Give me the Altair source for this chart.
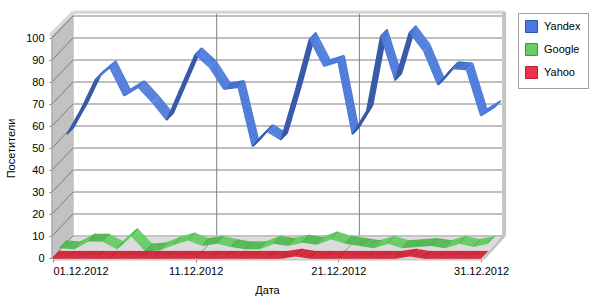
import json
import altair as alt
import pandas as pd

# ---------------- data ----------------
dates = ["01.12.2012", "02.12.2012", "03.12.2012", "04.12.2012", "05.12.2012",
         "06.12.2012", "07.12.2012", "08.12.2012", "09.12.2012", "10.12.2012",
         "11.12.2012", "12.12.2012", "13.12.2012", "14.12.2012", "15.12.2012",
         "16.12.2012", "17.12.2012", "18.12.2012", "19.12.2012", "20.12.2012",
         "21.12.2012", "22.12.2012", "23.12.2012", "24.12.2012", "25.12.2012",
         "26.12.2012", "27.12.2012", "28.12.2012", "29.12.2012", "30.12.2012",
         "31.12.2012"]
yandex = [49.5, 61, 74.5, 80, 67, 71, 64, 56, 71, 86, 80, 70, 71, 44, 51, 47,
          69, 93, 80.5, 82.5, 49.5, 60, 94.5, 74, 96, 87.5, 72, 79.5, 79, 58, 62]
google = [1.5, 1, 4.5, 4.5, 1, 7, 0, 0.5, 3, 5, 2.5, 3.5, 2, 1, 1, 3.5,
          2.5, 4, 3, 5.5, 3.5, 2.5, 1.5, 3.5, 1.5, 2, 2.5, 1.5, 3.5, 2, 3.5]
yahoo = [0, 0, 0, 0, 0, 0, 0, 0, 0, 0, 0, 0, 0, 0, 0, 0,
         0, 1, 0, 0, 0, 0, 0, 0, 0, 1, 0, 0, 0, 0, 0]
series_names = ["Yandex", "Google", "Yahoo"]
x_tick_labels = ["01.12.2012", "11.12.2012", "21.12.2012", "31.12.2012"]
y_ticks = [0, 10, 20, 30, 40, 50, 60, 70, 80, 90, 100]

# ---------------- layout / style ----------------
FONT = "Liberation Sans"
PX_DAY = 14.27
PX_UNIT = 2.2
W, H = 460, 246
LEFT, TOP = 52, 12
DX, DY = 21, 22
R = DY / DX
X_LEFT = 1 - 1 / PX_DAY
WALL_TOP = 101.3

days = [int(s[:2]) for s in dates]
tick_days = [int(s[:2]) for s in x_tick_labels]
last_day = days[-1]

palette = {
    "Yandex": {"flat": "#4672cf", "tilt": "#4d7bda", "under": "#3a5ba9", "edge": "#2f4f96"},
    "Google": {"flat": "#55ba55", "tilt": "#66cc66", "under": "#47a047", "edge": "#3c8f3c"},
    "Yahoo": {"flat": "#d42a3c", "tilt": "#f0384e", "under": "#a82030", "edge": "#9a1c2a"},
}
depth = {"Yandex": (14, 20), "Google": (7, 13), "Yahoo": (0, 6)}
leg_fill = ["#4a78dc", "#66cc66", "#f0304a"]
leg_stroke = ["#2f55a8", "#3b9b3b", "#b52035"]

values_by = dict(zip(series_names, [yandex, google, yahoo]))

seg_rows = []
pt_rows = []
for name in series_names:
    vals = values_by[name]
    for i in range(len(vals) - 1):
        rise_px = (vals[i + 1] - vals[i]) * PX_UNIT
        if rise_px > PX_DAY * R:
            shade = "under"
        elif abs(rise_px) < 2.5:
            shade = "flat"
        else:
            shade = "tilt"
        for j in (i, i + 1):
            seg_rows.append({"series": name, "seg": i, "day": days[j],
                             "value": vals[j], "col": palette[name][shade]})
    for j, v in enumerate(vals):
        pt_rows.append({"series": name, "day": days[j], "value": v,
                        "edge": palette[name]["edge"]})
segs = pd.DataFrame(seg_rows)
pts = pd.DataFrame(pt_rows)

xs = alt.Scale(domain=[X_LEFT, X_LEFT + W / PX_DAY], nice=False, zero=False)
ys = alt.Scale(domain=[0, H / PX_UNIT], nice=False, zero=False)

label_expr = f"{json.dumps(x_tick_labels)}[indexof({json.dumps(tick_days)}, datum.value)]"

AX_X = alt.Axis(
    values=tick_days, labelExpr=label_expr, domain=False, grid=False,
    tickSize=4, tickColor="#808080", labelPadding=3, labelFont=FONT,
    labelFontSize=11, labelColor="black", title="Дата", titleFont=FONT,
    titleFontSize=11, titleFontWeight="normal", titleColor="black",
    titleX=215, titleY=26)
AX_Y = alt.Axis(
    values=y_ticks, domain=False, grid=False, tickSize=3, tickColor="#808080",
    labelPadding=5, labelFont=FONT, labelFontSize=11, labelColor="black",
    title="Посетители", titleFont=FONT, titleFontSize=11,
    titleFontWeight="normal", titleColor="black", titleX=-36, titleY=136)


def X(f):
    return alt.X(f, type="quantitative", scale=xs, axis=AX_X)


def Y(f):
    return alt.Y(f, type="quantitative", scale=ys, axis=AX_Y)


hgrid = pd.DataFrame({"v": y_ticks, "x0": X_LEFT, "x1": last_day})
vgrid = pd.DataFrame({"d": tick_days[1:3], "y0": 0, "y1": WALL_TOP})
floor = pd.DataFrame({"x0": [X_LEFT], "x1": [last_day], "y": [0], "top": [WALL_TOP]})

layers = []

# back wall gridlines
layers.append(
    alt.Chart(hgrid).mark_rule(color="#808080", strokeWidth=1, xOffset=DX, x2Offset=DX, yOffset=-DY)
    .encode(x=X("x0"), x2="x1:Q", y=Y("v"))
)
layers.append(
    alt.Chart(vgrid).mark_rule(color="#808080", strokeWidth=1, xOffset=DX, yOffset=-DY, y2Offset=-DY)
    .encode(x=X("d"), y=Y("y0"), y2="y1:Q")
)

# floor (swept)
for k in range(0, DX + 1):
    layers.append(
        alt.Chart(floor).mark_rule(color="#dcdcdc", strokeWidth=1.6, xOffset=k, x2Offset=k, yOffset=-k * R)
        .encode(x=X("x0"), x2="x1:Q", y=Y("y"))
    )
# floor diagonals
fdiag = pd.DataFrame({"d": tick_days[1:3], "y": 0})
layers.append(
    alt.Chart(fdiag).mark_rule(color="#909090", strokeWidth=1, x2Offset=DX, y2Offset=-DY)
    .encode(x=X("d"), x2="d:Q", y=Y("y"), y2="y:Q")
)
# back wall bottom line
layers.append(
    alt.Chart(floor).mark_rule(color="#b0b0b0", strokeWidth=1, xOffset=DX, x2Offset=DX, yOffset=-DY)
    .encode(x=X("x0"), x2="x1:Q", y=Y("y"))
)

# left wall (swept)
for k in range(0, DX + 1):
    layers.append(
        alt.Chart(floor).mark_rule(color="#c0c0c0", strokeWidth=1.6, xOffset=k, yOffset=-k * R, y2Offset=-k * R)
        .encode(x=X("x0"), y=Y("y"), y2="top:Q")
    )
# left wall diagonals
wdiag = pd.DataFrame({"v": y_ticks, "x": X_LEFT})
layers.append(
    alt.Chart(wdiag).mark_rule(color="#7a7a7a", strokeWidth=1, x2Offset=DX, y2Offset=-DY)
    .encode(x=X("x"), x2="x:Q", y=Y("v"), y2="v:Q")
)
# rims / edges
layers.append(
    alt.Chart(floor).mark_rule(color="#a8a8a8", strokeWidth=1)
    .encode(x=X("x0"), y=Y("y"), y2="top:Q")
)
layers.append(
    alt.Chart(floor).mark_rule(color="#d4d4d4", strokeWidth=3, xOffset=DX, x2Offset=DX + 3, yOffset=-DY - 1)
    .encode(x=X("x0"), x2="x1:Q", y=Y("top"))
)
layers.append(
    alt.Chart(floor).mark_rule(color="#dadada", strokeWidth=3, xOffset=-2, x2Offset=DX, yOffset=0, y2Offset=-DY - 1)
    .encode(x=X("x0"), x2="x0:Q", y=Y("top"), y2="top:Q")
)
layers.append(
    alt.Chart(floor).mark_rule(color="#c4c4c4", strokeWidth=4, xOffset=DX + 2, yOffset=-DY, y2Offset=-DY - 1)
    .encode(x=X("x1"), y=Y("y"), y2="top:Q")
)
layers.append(
    alt.Chart(floor).mark_rule(color="#c4c4c4", strokeWidth=3, xOffset=2, x2Offset=DX + 2, yOffset=1, y2Offset=-DY)
    .encode(x=X("x1"), x2="x1:Q", y=Y("y"), y2="y:Q")
)
layers.append(
    alt.Chart(floor).mark_rule(color="#c8c8c8", strokeWidth=2, yOffset=1.5, x2Offset=2)
    .encode(x=X("x0"), x2="x1:Q", y=Y("y"))
)

# ribbons: back series first
for name in series_names:
    k0, k1 = depth[name]
    sd = segs[segs["series"] == name]
    for k in range(k1, k0 - 1, -1):
        layers.append(
            alt.Chart(sd).mark_line(strokeWidth=1.6, xOffset=k, yOffset=-k * R)
            .encode(x=X("day"), y=Y("value"), detail="seg:N",
                    color=alt.Color("col:N", scale=None))
        )
    if name != "Yandex":
        pd_ = pts[pts["series"] == name]
        layers.append(
            alt.Chart(pd_).mark_rule(strokeWidth=1, opacity=0.6, xOffset=k0, yOffset=-k0 * R,
                                     x2Offset=k1 + 1, y2Offset=-(k1 + 1) * R)
            .encode(x=X("day"), x2="day:Q", y=Y("value"), y2="value:Q",
                    color=alt.Color("edge:N", scale=None))
        )

# legend carrier (clipped out of view)
leg = alt.Legend(orient="none", legendX=466, legendY=1, title=None, symbolType="square",
                 symbolSize=144, labelFont=FONT, labelFontSize=11, labelColor="black",
                 padding=7, rowPadding=6, strokeColor="#a0a0a0", fillColor="white",
                 labelOffset=6, symbolStrokeWidth=1)
legdf = pd.DataFrame({"series": series_names, "day": 1, "value": -50})
layers.append(
    alt.Chart(legdf).mark_square(clip=True, filled=True, strokeWidth=1, opacity=1)
    .encode(x=X("day"), y=Y("value"),
            fill=alt.Fill("series:N", scale=alt.Scale(domain=series_names, range=leg_fill), legend=leg),
            stroke=alt.Stroke("series:N", scale=alt.Scale(domain=series_names, range=leg_stroke), legend=leg))
)

chart = alt.layer(*layers).properties(
    width=W, height=H,
    padding={"left": LEFT, "top": TOP, "right": 600 - LEFT - W, "bottom": 300 - TOP - H},
    autosize=alt.AutoSizeParams(type="none"),
    background="white",
).configure_view(stroke=None)

chart.save("out.html", embed_options={"renderer": "svg", "actions": False})
